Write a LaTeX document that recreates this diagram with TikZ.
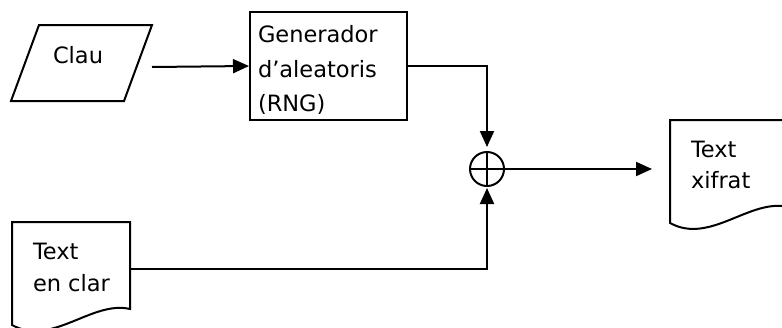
\documentclass[tikz,border=0pt]{standalone}
\usepackage{fontspec}
\setmainfont{DejaVu Sans}
\usetikzlibrary{arrows.meta}
\tikzset{
  every path/.style={line width=2pt},
  lbl/.style={anchor=base west, inner sep=0pt, font=\fontsize{22.5}{32}\selectfont, align=left},
  arr/.style={-{Triangle[length=16pt,width=14pt]}},
  docshape/.pic={\draw (0,0) -- (118,0) -- (118,87) .. controls (80,78) and (40,125) .. (0,103) -- cycle;}
}
\begin{document}
\begin{tikzpicture}[x=1pt,y=-1pt]
\useasboundingbox (0,0) rectangle (782,327);
% Clau parallelogram
\draw (39,25) -- (152,25) -- (124,101) -- (11,101) -- cycle;
\node[lbl] (clau) at (52,63) {Clau};
\coordinate (clauout) at (152,67);
% RNG box
\node[draw, minimum width=157pt, minimum height=108pt, inner sep=0pt] (rng) at (328.5,66) {};
\node[lbl] (rngtxt) at (257,42) {Generador};
\node[lbl] (rngtxt2) at (257,77) {d’aleatoris};
\node[lbl] (rngtxt3) at (257,111) {(RNG)};
% XOR
\node[draw, circle, minimum size=34pt, inner sep=0pt] (xor) at (487,169) {};
\draw (xor.north) -- (xor.south) (xor.west) -- (xor.east);
\coordinate (xortopin) at (487,147);
\coordinate (xorbotin) at (487,188);
% documents
\pic at (670,120) {docshape};
\node[lbl] (cip1) at (690,157) {Text};
\node[lbl] (cip2) at (690,188) {xifrat};
\coordinate (cipin) at (652,169);
\pic at (12,222) {docshape};
\node[lbl] (pl1) at (32,259) {Text};
\node[lbl] (pl2) at (32,291) {en clar};
\coordinate (plout) at (130,269);
% connectors
\draw[arr] (clauout) -- (rng.west);
\draw[arr] (rng.east) -| (xortopin);
\draw[arr] (xor.east) -- (cipin);
\draw[arr] (plout) -| (xorbotin);
\end{tikzpicture}
\end{document}
